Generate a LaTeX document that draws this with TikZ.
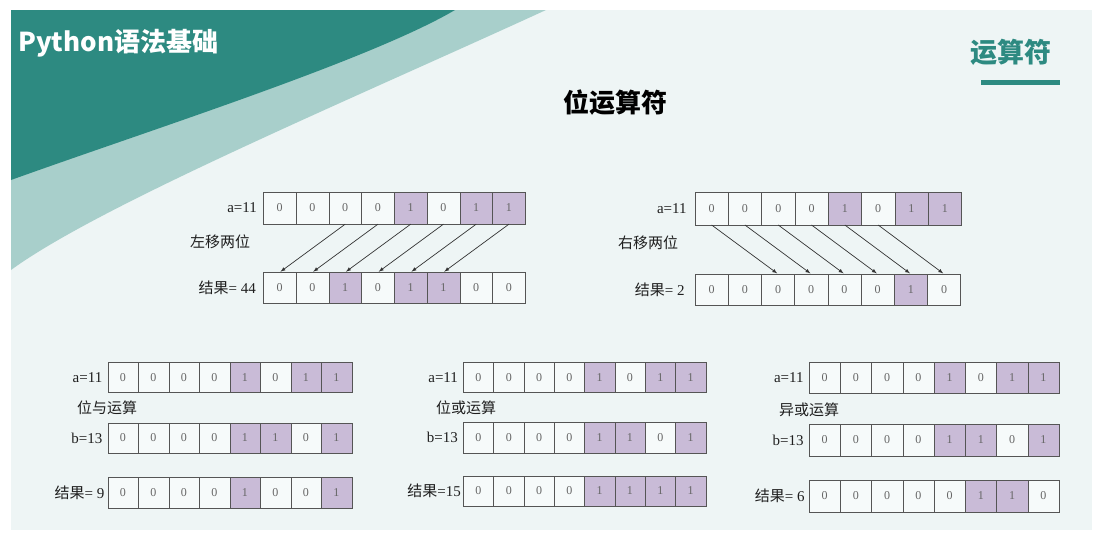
\documentclass[tikz,border=0pt]{standalone}
\usepackage{fontspec}
\setmainfont{Liberation Serif}
\newfontfamily\cjk{Noto Sans CJK SC}
\usetikzlibrary{arrows,positioning}
\definecolor{slidebg}{HTML}{EEF5F5}
\definecolor{darkteal}{HTML}{2D8A81}
\definecolor{lightteal}{HTML}{A8CFCB}
\definecolor{bitc0}{HTML}{F6FAFA}
\definecolor{bitc1}{HTML}{C9BBD7}
\definecolor{cellline}{HTML}{555555}
\tikzset{bit/.style={draw=cellline, fill=bitc#1, inner sep=0pt, text=black!60, font=\fontsize{12}{12}\selectfont}}
\tikzset{lab/.style={text=black!88, inner sep=0pt, font=\fontsize{15}{16}\selectfont}}
\tikzset{shiftarr/.style={-latex, draw=black!80, line width=0.7pt, shorten >=1pt}}
\tikzset{bigcell/.style={minimum width=32.75pt, minimum height=32pt}}
\tikzset{smallcell/.style={minimum width=30.5pt, minimum height=30.4pt}}
\begin{document}
\begin{tikzpicture}
[x=1pt, y=-1pt]
\useasboundingbox (0,0) rectangle (1114,546);
\fill[white] (0,0) rectangle (1114,546);
\fill[slidebg] (11,10) rectangle (1092,530);
\fill[lightteal] (11,10) -- (546,10) .. controls (350,100) and (100,205) .. (11,270) -- cycle;
\fill[darkteal] (11,10) -- (455,10) .. controls (370,60) and (150,130) .. (11,180) -- cycle;

\node (head) at (18,43)[anchor=west, text=white, inner sep=0pt, font=\cjk\bfseries\fontsize{26}{28}\selectfont]{Python语法基础};
\node (section) at (1011,52)[text=darkteal, inner sep=0pt, font=\cjk\bfseries\fontsize{27}{28}\selectfont]{运算符};
\draw[darkteal, line width=4.5pt] (981,82.5) -- (1060,82.5);
\node (title) at (615,103)[inner sep=0pt, font=\cjk\bfseries\fontsize{26}{28}\selectfont]{位运算符};

% left shift
\foreach \v [count=\i] in {0,0,0,0,1,0,1,1}
  \node (la\i) at (263.3+32.75*\i-16.4, 208)[bit=\v, bigcell]{\v};
\foreach \v [count=\i] in {0,0,1,0,1,1,0,0}
  \node (lr\i) at (263.3+32.75*\i-16.4, 288)[bit=\v, bigcell, minimum height=31pt]{\v};
\node (latext) [lab, left=6pt of la1]{a=11};
\node (lstext) at (190,242)[lab, anchor=west]{\cjk 左移两位};
\node (lrtext) [lab, left=7pt of lr1]{{\cjk 结果}= 44};
\foreach \i in {1,...,6} {
  \pgfmathtruncatemacro\j{\i+2}
  \draw[shiftarr] (la\j.south) -- (lr\i.north);
}

% right shift
\foreach \v [count=\i] in {0,0,0,0,1,0,1,1}
  \node (ra\i) at (695+33.3*\i-16.65, 208.3)[bit=\v, bigcell, minimum width=33.3pt, minimum height=33pt]{\v};
\foreach \v [count=\i] in {0,0,0,0,0,0,1,0}
  \node (rr\i) at (695+33.2*\i-16.6, 289.7)[bit=\v, bigcell, minimum width=33.2pt, minimum height=31pt]{\v};
\node (ratext) [lab, left=8pt of ra1]{a=11};
\node (rstext) at (618,243)[lab, anchor=west]{\cjk 右移两位};
\node (rrtext) [lab, left=10pt of rr1]{{\cjk 结果}= 2};
\foreach \i in {1,...,6} {
  \pgfmathtruncatemacro\j{\i+2}
  \draw[shiftarr] (ra\i.south) -- (rr\j.north);
}

% and
\foreach \v [count=\i] in {0,0,0,0,1,0,1,1}
  \node (aa\i) at (107.7+30.5*\i-15.25, 377.3)[bit=\v, smallcell]{\v};
\foreach \v [count=\i] in {0,0,0,0,1,1,0,1}
  \node (ab\i) at (107.7+30.5*\i-15.25, 438)[bit=\v, smallcell]{\v};
\foreach \v [count=\i] in {0,0,0,0,1,0,0,1}
  \node (ar\i) at (107.7+30.5*\i-15.25, 492.5)[bit=\v, smallcell]{\v};
\node (aatext) [lab, left=5pt of aa1]{a=11};
\node (astext) at (77,408)[lab, anchor=west]{\cjk 位与运算};
\node (abtext) [lab, left=5pt of ab1]{b=13};
\node (artext) [lab, left=3pt of ar1]{{\cjk 结果}= 9};

% or
\foreach \v [count=\i] in {0,0,0,0,1,0,1,1}
  \node (oa\i) at (463.3+30.3*\i-15.15, 377.3)[bit=\v, smallcell, minimum width=30.3pt]{\v};
\foreach \v [count=\i] in {0,0,0,0,1,1,0,1}
  \node (ob\i) at (463.3+30.3*\i-15.15, 437.7)[bit=\v, smallcell, minimum width=30.3pt]{\v};
\foreach \v [count=\i] in {0,0,0,0,1,1,1,1}
  \node (or\i) at (463.3+30.3*\i-15.15, 491)[bit=\v, smallcell, minimum width=30.3pt]{\v};
\node (oatext) [lab, left=5pt of oa1]{a=11};
\node (ostext) at (436,408)[lab, anchor=west]{\cjk 位或运算};
\node (obtext) [lab, left=5pt of ob1]{b=13};
\node (ortext) [lab, left=2pt of or1]{{\cjk 结果}=15};

% xor
\foreach \v [count=\i] in {0,0,0,0,1,0,1,1}
  \node (xa\i) at (809+31.25*\i-15.6, 377.8)[bit=\v, smallcell, minimum width=31.25pt, minimum height=31pt]{\v};
\foreach \v [count=\i] in {0,0,0,0,1,1,0,1}
  \node (xb\i) at (809+31.25*\i-15.6, 440)[bit=\v, smallcell, minimum width=31.25pt, minimum height=32pt]{\v};
\foreach \v [count=\i] in {0,0,0,0,0,1,1,0}
  \node (xr\i) at (809+31.25*\i-15.6, 496)[bit=\v, smallcell, minimum width=31.25pt, minimum height=32pt]{\v};
\node (xatext) [lab, left=5pt of xa1]{a=11};
\node (xstext) at (779,410)[lab, anchor=west]{\cjk 异或运算};
\node (xbtext) [lab, left=5pt of xb1]{b=13};
\node (xrtext) [lab, left=4pt of xr1]{{\cjk 结果}= 6};
\end{tikzpicture}
\end{document}
